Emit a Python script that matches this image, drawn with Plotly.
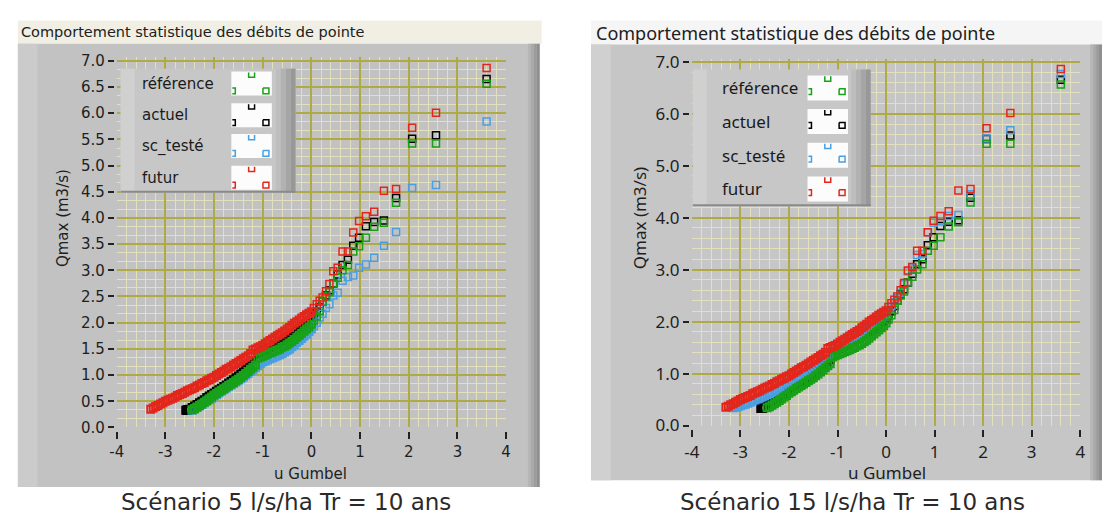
import plotly.graph_objects as go

W, H = 1107, 526

# ---------------- data ----------------
SERIES = ["référence", "actuel", "sc_testé", "futur"]
COLORS = {"référence": "#17a117", "actuel": "#000000", "sc_testé": "#4a9fe2", "futur": "#e3261c"}

X_TICKS = [-4, -3, -2, -1, 0, 1, 2, 3, 4]
X_TICKTEXT = ["-4", "-3", "-2", "-1", "0", "1", "2", "3", "4"]
Y_TICKS_L = [0.0, 0.5, 1.0, 1.5, 2.0, 2.5, 3.0, 3.5, 4.0, 4.5, 5.0, 5.5, 6.0, 6.5, 7.0]
Y_TICKTEXT_L = ["0.0", "0.5", "1.0", "1.5", "2.0", "2.5", "3.0", "3.5", "4.0", "4.5", "5.0", "5.5", "6.0", "6.5", "7.0"]
Y_TICKS_R = [0.0, 1.0, 2.0, 3.0, 4.0, 5.0, 6.0, 7.0]
Y_TICKTEXT_R = ["0.0", "1.0", "2.0", "3.0", "4.0", "5.0", "6.0", "7.0"]

# u Gumbel of the largest (isolated) events, shared by all series
U_TOP = [3.60, 2.56, 2.07, 1.74, 1.49, 1.29, 1.12, 0.98, 0.86, 0.75,
         0.64, 0.54, 0.45, 0.37, 0.30, 0.23, 0.17, 0.11, 0.05]
FUTUR_TOP = [6.86, 6.01, 5.72, 4.55, 4.52, 4.12, 4.03, 3.94, 3.72, 3.36,
             3.36, 3.05, 2.98, 2.74, 2.60, 2.48, 2.42, 2.35, 2.28]
ACTUEL_TOP = [6.65, 5.58, 5.51, 4.38, 3.95, 3.92, 3.84, 3.62, 3.47, 3.20,
              3.10, 2.92, 2.75, 2.62, 2.52, 2.40, 2.30, 2.20, 2.12]
REFERENCE_TOP = [6.56, 5.42, 5.42, 4.29, 3.91, 3.83, 3.62, 3.46, 3.36, 3.10,
                 3.00, 2.86, 2.75, 2.58, 2.50, 2.40, 2.22, 2.12, 2.04]
SC5_TOP = [5.84, 4.63, 4.57, 3.73, 3.47, 3.24, 3.11, 3.05, 2.90, 2.87,
           2.80, 2.57, 2.52, 2.35, 2.28, 2.17, 2.10, 2.00, 1.93]
SC15_TOP = [6.76, 5.68, 5.52, 4.45, 4.05, 4.03, 3.93, 3.90, 3.72, 3.30,
            3.28, 3.02, 2.97, 2.72, 2.55, 2.45, 2.37, 2.30, 2.24]

# u Gumbel positions of the dense part of the curves
U_LOW = [-3.30, -3.25, -3.20, -3.15, -3.10, -3.05, -3.00, -2.95, -2.90, -2.85,
         -2.80, -2.75, -2.70, -2.65, -2.60, -2.55, -2.50, -2.45, -2.40, -2.35,
         -2.30, -2.25, -2.20, -2.15, -2.10, -2.05, -2.00, -1.95, -1.90, -1.85,
         -1.80, -1.75, -1.70, -1.65, -1.60, -1.55, -1.50, -1.45, -1.40, -1.35,
         -1.30, -1.25, -1.20, -1.15, -1.10, -1.05, -1.00, -0.95, -0.90, -0.85,
         -0.80, -0.75, -0.70, -0.65, -0.60, -0.55, -0.50, -0.45, -0.40, -0.35,
         -0.30, -0.25, -0.20, -0.15, -0.10, -0.05, 0.00]
FUTUR_LOW = [0.35, 0.37, 0.40, 0.42, 0.45, 0.47, 0.50, 0.52, 0.54, 0.56,
             0.58, 0.61, 0.63, 0.65, 0.67, 0.70, 0.72, 0.74, 0.76, 0.79,
             0.81, 0.84, 0.86, 0.89, 0.91, 0.94, 0.96, 0.99, 1.02, 1.05,
             1.08, 1.11, 1.13, 1.16, 1.19, 1.22, 1.25, 1.28, 1.31, 1.34,
             1.37, 1.41, 1.48, 1.50, 1.52, 1.54, 1.57, 1.60, 1.63, 1.66,
             1.69, 1.72, 1.75, 1.78, 1.81, 1.84, 1.88, 1.91, 1.95, 1.99,
             2.02, 2.05, 2.09, 2.12, 2.15, 2.18, 2.21]
ACTUEL_LOW = [0.33, 0.35, 0.38, 0.41, 0.44, 0.47, 0.50, 0.53, 0.57, 0.60,
              0.63, 0.66, 0.69, 0.72, 0.75, 0.78, 0.81, 0.85, 0.88, 0.91,
              0.95, 0.98, 1.02, 1.06, 1.10, 1.14, 1.18, 1.22, 1.27, 1.40,
              1.43, 1.46, 1.48, 1.51, 1.53, 1.56, 1.58, 1.61, 1.64, 1.67,
              1.70, 1.72, 1.75, 1.78, 1.81, 1.84, 1.87, 1.91, 1.94, 1.98,
              2.01, 2.05]
REFERENCE_LOW = [0.34, 0.36, 0.39, 0.42, 0.45, 0.48, 0.51, 0.55, 0.58, 0.62,
                 0.65, 0.68, 0.71, 0.74, 0.77, 0.80, 0.83, 0.86, 0.89, 0.92,
                 0.96, 0.99, 1.03, 1.07, 1.11, 1.15, 1.19, 1.32, 1.34, 1.36,
                 1.38, 1.40, 1.42, 1.44, 1.46, 1.48, 1.50, 1.53, 1.55, 1.58,
                 1.61, 1.64, 1.68, 1.72, 1.76, 1.80, 1.84, 1.88, 1.92, 1.97]
SC5_LOW = [0.33, 0.35, 0.38, 0.41, 0.44, 0.47, 0.50, 0.53, 0.56, 0.60,
           0.63, 0.66, 0.69, 0.72, 0.75, 0.78, 0.81, 0.84, 0.87, 0.90,
           0.93, 0.96, 1.00, 1.03, 1.07, 1.10, 1.14, 1.18, 1.22, 1.25,
           1.27, 1.29, 1.31, 1.33, 1.35, 1.37, 1.39, 1.41, 1.44, 1.47,
           1.50, 1.54, 1.58, 1.62, 1.66, 1.70, 1.74, 1.78, 1.83, 1.88]
SC15_LOW = [0.34, 0.35, 0.36, 0.38, 0.40, 0.41, 0.43, 0.45, 0.47, 0.49,
            0.51, 0.53, 0.55, 0.57, 0.59, 0.61, 0.63, 0.66, 0.68, 0.71,
            0.73, 0.75, 0.78, 0.80, 0.83, 0.86, 0.89, 0.92, 0.95, 0.98,
            1.01, 1.04, 1.07, 1.10, 1.14, 1.17, 1.21, 1.25, 1.29, 1.33,
            1.36, 1.39, 1.43, 1.47, 1.50, 1.53, 1.57, 1.60, 1.63, 1.67,
            1.70, 1.73, 1.77, 1.80, 1.84, 1.87, 1.90, 1.93, 1.96, 2.00,
            2.03, 2.07, 2.10, 2.14]
# first u Gumbel value of each dense curve
LOW_START = {"futur": -3.30, "actuel": -2.55, "référence": -2.45, "sc5": -2.45, "sc15": -3.15}
# small cluster of equal values where the "actuel" curve starts
ACTUEL_START_U = [-2.58, -2.57, -2.56, -2.54, -2.53]
ACTUEL_START_Q = [0.33, 0.33, 0.33, 0.34, 0.34]

TITLE = "Comportement statistique des débits de pointe"
CAPTIONS = ["Scénario 5 l/s/ha Tr = 10 ans", "Scénario 15 l/s/ha Tr = 10 ans"]


def low_x(key, vals):
    i = U_LOW.index(LOW_START[key])
    return U_LOW[i:i + len(vals)]


def P(x, y):
    return x / W, 1 - y / H


fig = go.Figure()

charts = [
    dict(xa="x", ya="y", sc_top=SC5_TOP, sc_low=SC5_LOW, sc_key="sc5"),
    dict(xa="x2", ya="y2", sc_top=SC15_TOP, sc_low=SC15_LOW, sc_key="sc15"),
]


def add_pts(xs, ys, color, xa, ya, width):
    fig.add_trace(go.Scatter(
        x=xs, y=ys, mode="markers", xaxis=xa, yaxis=ya, showlegend=False, hoverinfo="skip",
        marker=dict(symbol="square-open", size=7, color=color, line=dict(color=color, width=width))))


for c in charts:
    xa, ya = c["xa"], c["ya"]
    add_pts(ACTUEL_START_U + low_x("actuel", ACTUEL_LOW), ACTUEL_START_Q + ACTUEL_LOW,
            COLORS["actuel"], xa, ya, 2)
    add_pts(U_TOP, ACTUEL_TOP, COLORS["actuel"], xa, ya, 1.5)
    add_pts(low_x(c["sc_key"], c["sc_low"]), c["sc_low"], COLORS["sc_testé"], xa, ya, 2)
    add_pts(U_TOP, c["sc_top"], COLORS["sc_testé"], xa, ya, 1.5)
    add_pts(low_x("référence", REFERENCE_LOW), REFERENCE_LOW, COLORS["référence"], xa, ya, 2)
    add_pts(U_TOP, REFERENCE_TOP, COLORS["référence"], xa, ya, 1.5)
    add_pts(low_x("futur", FUTUR_LOW), FUTUR_LOW, COLORS["futur"], xa, ya, 2)
    add_pts(U_TOP, FUTUR_TOP, COLORS["futur"], xa, ya, 1.5)

MAJOR = "#afaa44"
MINOR = "#e3e0bd"
TICKC = "#222222"


def xaxis_cfg(x0, x1, ypos, font):
    return dict(domain=[x0 / W, x1 / W], range=[-4, 4], anchor="free", position=1 - ypos / H,
                tickvals=X_TICKS, ticktext=X_TICKTEXT, ticks="outside", ticklen=7, tickwidth=1.5,
                tickcolor=TICKC, showgrid=True, gridcolor=MAJOR, gridwidth=1.5, zeroline=False,
                showline=False, tickfont=font, fixedrange=True,
                minor=dict(dtick=0.2, tick0=0, showgrid=True, gridcolor=MINOR, gridwidth=1, ticks=""))


def yaxis_cfg(y0, y1, top, xpos, vals, texts, minor_dt, font):
    return dict(domain=[1 - y1 / H, 1 - y0 / H], range=[0, top], anchor="free", position=xpos / W,
                tickvals=vals, ticktext=texts, ticks="outside", ticklen=6, tickwidth=1.5,
                tickcolor=TICKC, showgrid=True, gridcolor=MAJOR, gridwidth=1.5, zeroline=False,
                showline=False, tickfont=font, fixedrange=True,
                minor=dict(dtick=minor_dt, tick0=0, showgrid=True, gridcolor=MINOR, gridwidth=1, ticks=""))


FONT_L = dict(family="DejaVu Sans", size=15, color="#1e1e1e")
FONT_R = dict(family="Noto Sans", size=17, color="#1e1e1e")

shapes = []


def rect(x0, y0, x1, y1, fill, layer="below"):
    shapes.append(dict(type="rect", xref="paper", yref="paper", x0=x0 / W, x1=x1 / W,
                       y0=1 - y1 / H, y1=1 - y0 / H, fillcolor=fill, line=dict(width=0), layer=layer))


def path(pts, color, width=1.5):
    d = "M " + " L ".join(f"{x / W:.5f},{1 - y / H:.5f}" for x, y in pts)
    shapes.append(dict(type="path", xref="paper", yref="paper", path=d,
                       line=dict(color=color, width=width), layer="above"))


annotations = []


def text(x, y, s, font, xanchor="left", angle=0, yanchor="middle"):
    ax, ay = P(x, y)
    annotations.append(dict(x=ax, y=ay, xref="paper", yref="paper", text=s, showarrow=False,
                            xanchor=xanchor, yanchor=yanchor, font=font, textangle=angle))


panels = [
    dict(tb=(10, 12, 540, 36), tbc="#f1efe3", g=(10, 36, 538, 497), gc="#c2c2c2", lc="#cbcbcb",
         title_x=11, title_font=dict(family="DejaVu Sans", size=14.5, color="#202020"),
         ytitle=(55, 217), xtitle=(306, 483), font=FONT_L,
         cap=(281, 512),
         leg=dict(box=(114, 62, 291, 191), lx=134, sx=226, sw=41, tops=[65, 98, 130, 163], sh=25,
                  sq=17, font=dict(family="DejaVu Sans", size=15, color="#1a1a1a"))),
    dict(tb=(590, 12, 1107, 37), tbc="#f5f5f5", g=(590, 37, 1107, 490), gc="#c6c6c6", lc="#d0d0d0",
         title_x=593, title_font=dict(family="Noto Sans", size=18, color="#202020"),
         ytitle=(639, 217), xtitle=(889, 482), font=FONT_R,
         cap=(855, 512),
         leg=dict(box=(693, 63, 873, 205), lx=720, sx=809, sw=41, tops=[69, 104, 139, 174], sh=26,
                  sq=14, font=dict(family="Noto Sans", size=17, color="#1a1a1a"))),
]

for i, p in enumerate(panels):
    rect(*p["tb"], p["tbc"])
    gx0, gy0, gx1, gy1 = p["g"]
    rect(gx0, gy0, gx1, gy1, p["gc"])
    rect(gx0, gy0, gx0 + 20, gy1, p["lc"])
    for k, col in enumerate(["#b6b6b6", "#a9a9a9", "#9c9c9c", "#8f8f8f"]):
        rect(gx1 - 12 + 3 * k, gy0, gx1 - 9 + 3 * k, gy1, col)
    text(p["title_x"], (p["tb"][1] + p["tb"][3]) / 2, TITLE, p["title_font"])
    text(p["ytitle"][0], p["ytitle"][1], "Qmax (m3/s)", p["font"], xanchor="center", angle=-90)
    text(p["xtitle"][0], p["xtitle"][1], "u Gumbel", p["font"], xanchor="center")
    text(p["cap"][0], p["cap"][1], CAPTIONS[i], dict(family="DejaVu Sans", size=23, color="#2a2a2a"),
         xanchor="center")
    L = p["leg"]
    bx0, by0, bx1, by1 = L["box"]
    rect(bx0, by0, bx1, by1, "#c7c7c7", "above")
    rect(bx0, by0, bx0 + 14, by1, "#d0d0d0", "above")
    for k, col in enumerate(["#bebebe", "#b2b2b2", "#a5a5a5", "#989898"]):
        rect(bx1 - 20 + 5 * k, by0, bx1 - 15 + 5 * k, by1, col, "above")
    rect(bx0, by1 - 2, bx1, by1, "#8a8a8a", "above")
    for name, top in zip(SERIES, L["tops"]):
        col = COLORS[name]
        sx, sw, sh, sq = L["sx"], L["sw"], L["sh"], L["sq"]
        rect(sx, top, sx + sw, top + sh, "#fbfcfb", "above")
        text(L["lx"], top + sh / 2, name, L["font"])
        mx = sx + sw / 2 - 3
        path([(mx, top + 1), (mx, top + 6), (mx + 6, top + 6), (mx + 6, top + 1)], col)
        path([(sx + 1, top + sq), (sx + 4, top + sq), (sx + 4, top + sq + 6), (sx + 1, top + sq + 6)], col)
        path([(sx + sw - 9, top + sq), (sx + sw - 3, top + sq), (sx + sw - 3, top + sq + 6),
              (sx + sw - 9, top + sq + 6), (sx + sw - 9, top + sq)], col)

fig.update_layout(
    width=W, height=H, autosize=False, margin=dict(l=0, r=0, t=0, b=0),
    paper_bgcolor="white", plot_bgcolor="#fffff5",
    xaxis=xaxis_cfg(110, 504, 439, FONT_L),
    yaxis=yaxis_cfg(50, 435, 7.07, 107, Y_TICKS_L, Y_TICKTEXT_L, 0.5 / 3, FONT_L),
    xaxis2=xaxis_cfg(692, 1085, 437, FONT_R),
    yaxis2=yaxis_cfg(52, 433, 7.05, 689, Y_TICKS_R, Y_TICKTEXT_R, 0.2, FONT_R),
    shapes=shapes, annotations=annotations,
)

fig.write_html("out.html")
